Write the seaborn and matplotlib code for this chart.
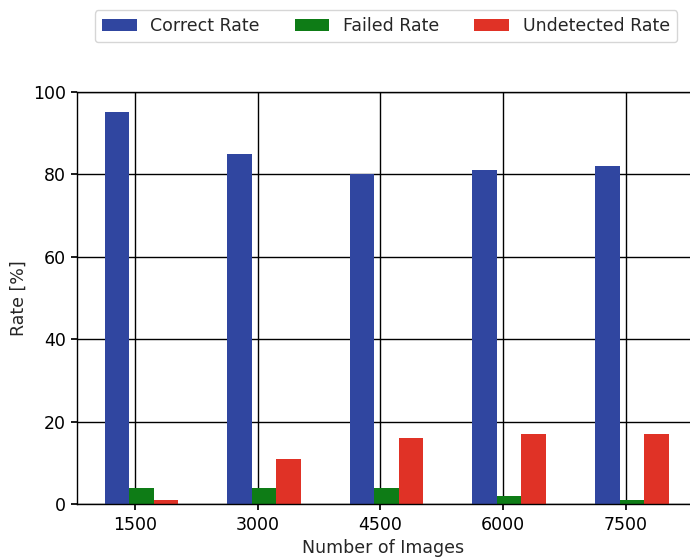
import numpy as np
import pandas as pd
import seaborn as sns
import matplotlib.pyplot as plt

# values
images = ['1500', '3000', '4500', '6000', '7500']
correct_rate = [95, 85, 80, 81, 82]
failed_rate = [4, 4, 4, 2, 1]
undetected_rate = [1, 11, 16, 17, 17]

metrics = ['Correct Rate', 'Failed Rate', 'Undetected Rate']
colors = ['#3046a0', '#0e7c16', '#e03226']

# long format table for seaborn
df = pd.DataFrame({
    'Number of Images': images * 3,
    'Rate': correct_rate + failed_rate + undetected_rate,
    'Metric': [m for m in metrics for _ in images],
})

sns.set_theme(style='whitegrid', rc={
    'font.size': 12.5,
    'axes.labelsize': 12.5,
    'xtick.labelsize': 12.5,
    'ytick.labelsize': 12.5,
    'legend.fontsize': 12.5,
    'grid.color': 'black',
    'grid.linewidth': 1.0,
    'axes.edgecolor': 'black',
    'axes.linewidth': 1.0,
    'xtick.bottom': True,
    'ytick.left': True,
    'xtick.major.size': 4.5,
    'ytick.major.size': 4.5,
    'xtick.color': 'black',
    'ytick.color': 'black',
})
plt.rcParams['font.family'] = ['DejaVu Sans']

fig = plt.figure(figsize=(6.9, 5.59), dpi=100)
ax = fig.add_axes([0.1116, 0.0975, 0.8884, 0.7385])

sns.barplot(data=df, x='Number of Images', y='Rate', hue='Metric',
            palette=colors, width=0.6, gap=0, saturation=1,
            linewidth=0, ax=ax)

ax.set_xticks(np.arange(len(images)) - 0.05, labels=images)
ax.set_xlim(-0.525, 4.475)
ax.set_ylim(0, 100)
ax.set_yticks([0, 20, 40, 60, 80, 100])
ax.set_xlabel('Number of Images')
ax.set_ylabel('Rate [%]')
ax.grid(True, axis='both', color='black', linewidth=1.0)
ax.set_axisbelow(True)
ax.spines['right'].set_visible(False)

sns.move_legend(ax, 'lower center', bbox_to_anchor=(0.504, 1.12), ncol=3,
                title=None, frameon=True, borderaxespad=0, handleheight=0.75)

fig.savefig('out.png', dpi=100)
